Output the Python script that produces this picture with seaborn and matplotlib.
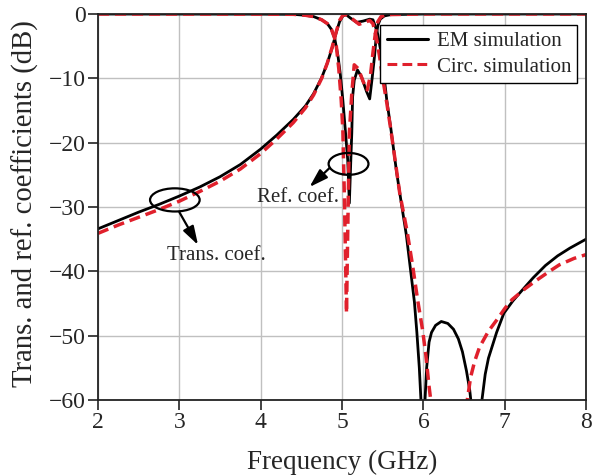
import numpy as np
import pandas as pd
import seaborn as sns
import matplotlib
matplotlib.use("Agg")
import matplotlib.pyplot as plt
from matplotlib.patches import Ellipse

# Transmission coefficient, EM simulation (GHz, dB)
s21_em_f = [2.0, 2.25, 2.5, 2.75, 3.0, 3.25, 3.5, 3.75, 4.0, 4.2, 4.4, 4.55, 4.65, 4.75,
            4.82, 4.88, 4.93, 4.97, 5.01, 5.05, 5.1, 5.18, 5.26, 5.34, 5.38, 5.42, 5.44,
            5.48, 5.52, 5.55, 5.6, 5.67, 5.73, 5.79, 5.83, 5.89, 5.92, 5.95, 5.97, 5.99,
            6.02, 6.04, 6.07, 6.1, 6.15, 6.22, 6.3, 6.37, 6.43, 6.48, 6.53, 6.57, 6.6,
            6.65, 6.69, 6.72, 6.76, 6.8, 6.85, 6.9, 6.99, 7.1, 7.21, 7.35, 7.5, 7.65,
            7.8, 8.0]
s21_em_db = [-33.4, -32.1, -30.8, -29.6, -28.3, -26.9, -25.3, -23.4, -21.0, -18.8, -16.4,
             -14.3, -12.4, -9.9, -7.6, -5.2, -2.8, -1.2, -0.3, -0.1, -0.6, -1.3, -1.1,
             -0.8, -0.9, -2.3, -3.2, -6.0, -10.0, -13.4, -17.8, -24.5, -29.5, -34.3, -38.5,
             -44.8, -49.5, -55.0, -60.0, -80.0, -60.0, -55.0, -51.0, -49.5, -48.4, -47.8,
             -48.1, -49.0, -50.5, -52.5, -55.5, -58.5, -62.0, -80.0, -70.0, -60.0, -56.0,
             -53.5, -51.5, -49.5, -46.5, -44.6, -43.0, -41.0, -39.1, -37.6, -36.4, -35.0]

# Transmission coefficient, circuit simulation
s21_ci_f = [2.0, 2.25, 2.5, 2.75, 3.0, 3.25, 3.5, 3.75, 4.0, 4.2, 4.4, 4.55, 4.65, 4.75,
            4.82, 4.88, 4.93, 4.97, 5.01, 5.05, 5.1, 5.21, 5.3, 5.34, 5.38, 5.42, 5.46,
            5.5, 5.55, 5.6, 5.71, 5.8, 5.87, 5.93, 5.99, 6.03, 6.07, 6.1, 6.2, 6.3, 6.45,
            6.5, 6.54, 6.58, 6.63, 6.69, 6.8, 6.9, 7.0, 7.09, 7.25, 7.39, 7.55, 7.67,
            7.85, 8.0]
s21_ci_db = [-34.1, -32.8, -31.6, -30.4, -29.1, -27.6, -26.0, -24.1, -21.7, -19.4, -16.9,
             -14.6, -12.6, -10.0, -7.6, -5.1, -2.7, -1.0, -0.2, -0.1, -0.5, -1.6, -1.2,
             -1.0, -1.5, -3.5, -6.5, -10.0, -13.8, -18.0, -27.9, -33.8, -39.3, -44.5,
             -49.1, -53.0, -57.9, -61.0, -75.0, -90.0, -80.0, -70.0, -60.0, -56.5, -54.0,
             -51.8, -49.3, -47.6, -45.8, -44.4, -42.7, -41.4, -40.0, -39.0, -38.0, -37.4]

# Reflection coefficient, EM simulation
s11_em_f = [2.0, 4.0, 4.4, 4.55, 4.65, 4.75, 4.82, 4.87, 4.91, 4.95, 4.98, 5.01, 5.04,
            5.07, 5.09, 5.11, 5.12, 5.13, 5.15, 5.19, 5.24, 5.3, 5.34, 5.37, 5.4, 5.42,
            5.44, 5.47, 5.52, 5.6, 6.0, 8.0]
s11_em_db = [0.0, -0.02, -0.05, -0.2, -0.4, -0.9, -1.5, -2.4, -3.8, -6.5, -9.5, -13.4,
             -18.0, -22.7, -29.4, -22.0, -18.5, -12.9, -10.3, -8.7, -9.8, -12.0, -13.2,
             -10.0, -6.5, -3.5, -1.8, -0.8, -0.3, -0.1, 0.0, 0.0]

# Reflection coefficient, circuit simulation
s11_ci_f = [2.0, 4.0, 4.4, 4.55, 4.65, 4.75, 4.82, 4.87, 4.91, 4.93, 4.96, 4.99, 5.01,
            5.03, 5.055, 5.07, 5.09, 5.12, 5.15, 5.2, 5.26, 5.31, 5.35, 5.38, 5.41, 5.44,
            5.48, 5.55, 6.0, 8.0]
s11_ci_db = [0.0, -0.02, -0.05, -0.2, -0.4, -0.9, -1.5, -2.4, -3.8, -5.0, -8.5, -13.4,
             -18.0, -29.0, -46.5, -34.0, -18.5, -12.3, -7.9, -8.5, -10.5, -11.8, -9.5,
             -6.0, -3.0, -1.2, -0.4, -0.1, 0.0, 0.0]

x_ticks = [2, 3, 4, 5, 6, 7, 8]
y_ticks = [0, -10, -20, -30, -40, -50, -60]

sns.set_style("ticks")
plt.rcParams['font.family'] = ['Liberation Serif', 'DejaVu Serif']

black = 'black'
red = '#E0202C'
red_dash = [3.2, 1.7]

fig = plt.figure(figsize=(5.92, 4.76), dpi=100)
ax = fig.add_axes([0.1655, 0.1597, 0.8245, 0.8109])

sns.lineplot(x=s21_em_f, y=s21_em_db, ax=ax, color=black, lw=2.0, label='EM simulation',
             estimator=None, sort=False)
sns.lineplot(x=s11_em_f, y=s11_em_db, ax=ax, color=black, lw=2.0, estimator=None, sort=False)
sns.lineplot(x=s21_ci_f, y=s21_ci_db, ax=ax, color=red, lw=2.5, label='Circ. simulation',
             estimator=None, sort=False)
sns.lineplot(x=s11_ci_f, y=s11_ci_db, ax=ax, color=red, lw=2.5, estimator=None, sort=False)
for ln in ax.get_lines()[2:]:
    ln.set_dashes(red_dash)

ax.set_xlim(2, 8)
ax.set_ylim(-60, 0)
ax.set_xticks(x_ticks)
ax.set_yticks(y_ticks)
ax.grid(True, color='#c0c0c0', lw=1.0)
ax.set_axisbelow(True)
for s in ax.spines.values():
    s.set_visible(True)
    s.set_color('#222222')
    s.set_linewidth(1.3)
ax.tick_params(labelsize=17, length=7, width=1.2, color='#222222', pad=2)
ax.set_xlabel('Frequency (GHz)', fontsize=19.5, labelpad=12)
ax.set_ylabel('Trans. and ref. coefficients (dB)', fontsize=20.7)
ax.yaxis.set_label_coords(-0.12, 0.51)

# annotations
ax.add_patch(Ellipse((2.945, -28.9), 0.61, 3.6, fill=False, ec='black', lw=1.6, zorder=5))
ax.add_patch(Ellipse((5.08, -23.3), 0.49, 3.4, fill=False, ec='black', lw=1.6, zorder=5))
arrow = dict(arrowstyle='-|>,head_length=0.7,head_width=0.22', color='black', lw=1.6,
             mutation_scale=16, shrinkA=0, shrinkB=0)
ax.annotate('', xy=(3.23, -35.9), xytext=(3.0, -30.8), arrowprops=arrow)
ax.annotate('', xy=(4.6, -26.9), xytext=(4.85, -23.9), arrowprops=arrow)
ax.text(3.45, -37.6, 'Trans. coef.', fontsize=15, ha='center', va='center')
ax.text(4.46, -28.6, 'Ref. coef.', fontsize=15, ha='center', va='center')

leg = ax.legend(loc='upper right', bbox_to_anchor=(0.982, 0.9715), borderaxespad=0,
                fontsize=15, frameon=True, fancybox=False, framealpha=1,
                handlelength=2.0, handletextpad=0.4, borderpad=0.3, labelspacing=0.3)
leg.get_frame().set_edgecolor('black')
leg.get_frame().set_linewidth(1.0)
for h in leg.get_lines():
    h.set_linewidth(2.2)
leg.get_lines()[1].set_dashes(red_dash)

fig.savefig('out.png', dpi=100)
